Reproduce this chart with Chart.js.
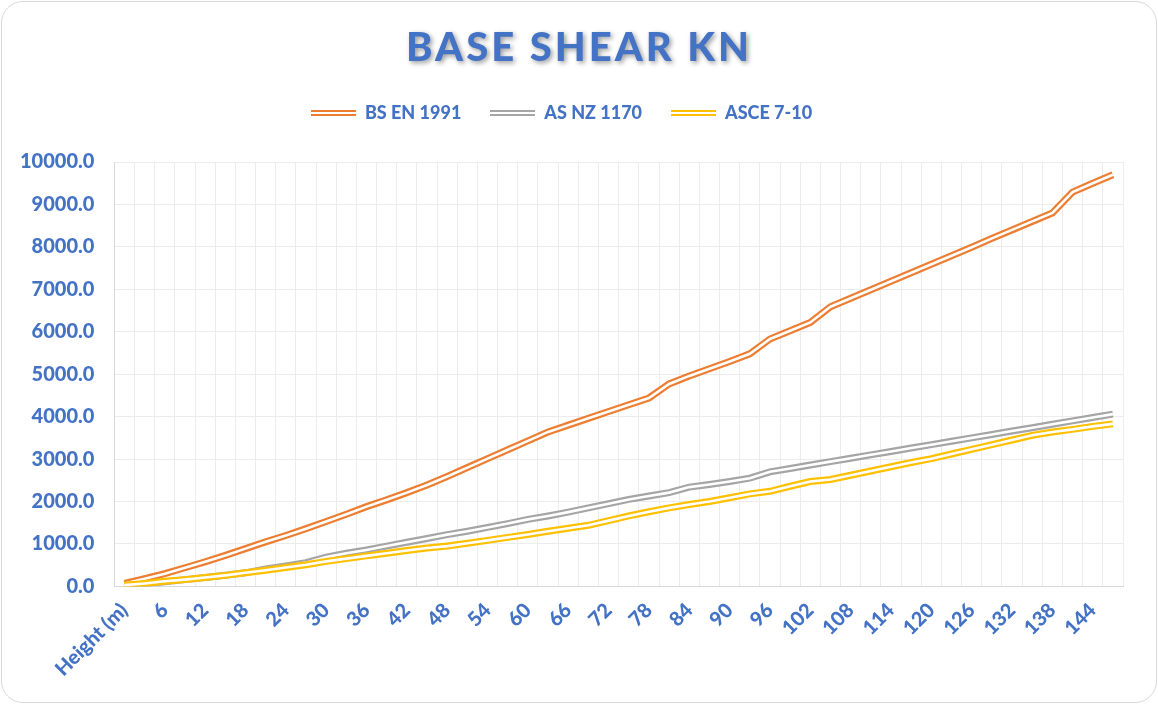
<!DOCTYPE html>
<html>
<head>
<meta charset="utf-8">
<title>Base Shear KN</title>
<script src="https://cdn.jsdelivr.net/npm/chart.js@4/dist/chart.umd.min.js"></script>
<style>
    body { margin: 0; background: #ffffff; }
    #wrap { position: relative; width: 1158px; height: 704px; }
    #frame {
        position: absolute; left: 1px; top: 1px; width: 1154px; height: 700px;
        border: 1.5px solid #d9d9d9; border-radius: 22px;
    }
    #chart { position: absolute; left: 0; top: 0; }
</style>
</head>
<body>
<div id="wrap">
    <div id="frame"></div>
    <canvas id="chart" width="1158" height="704"></canvas>
</div>
<script>
// Categories (height in m)
const heights = ['Height (m)', 3, 6, 9, 12, 15, 18, 21, 24, 27, 30, 33, 36, 39, 42, 45, 48, 51, 54, 57,
    60, 63, 66, 69, 72, 75, 78, 81, 84, 87, 90, 93, 96, 99, 102, 105, 108, 111, 114, 117,
    120, 123, 126, 129, 132, 135, 138, 141, 144, 147];

// Base shear values (kN)
const bsEn1991 = [70, 180, 300, 440, 580, 730, 890, 1050, 1200, 1360,
    1530, 1700, 1880, 2040, 2210, 2390, 2590, 2800, 3010, 3220,
    3430, 3640, 3800, 3960, 4120, 4280, 4440, 4770, 4960, 5130,
    5300, 5480, 5830, 6025, 6220, 6590, 6790, 6990, 7190, 7390,
    7590, 7790, 7990, 8200, 8400, 8600, 8800, 9290, 9500, 9700];

const asNz1170 = [20, 60, 110, 160, 210, 265, 320, 410, 480, 560,
    690, 780, 860, 950, 1040, 1130, 1220, 1300, 1390, 1480,
    1580, 1660, 1750, 1850, 1950, 2050, 2130, 2210, 2340, 2400,
    2470, 2550, 2700, 2780, 2860, 2940, 3020, 3100, 3180, 3260,
    3340, 3420, 3500, 3580, 3660, 3740, 3820, 3900, 3980, 4060];

const asce710 = [30, 70, 120, 160, 210, 260, 320, 380, 445, 510,
    590, 655, 720, 780, 845, 905, 950, 1015, 1085, 1155,
    1225, 1300, 1370, 1440, 1550, 1660, 1760, 1850, 1930, 2000,
    2090, 2180, 2240, 2360, 2470, 2520, 2620, 2720, 2820, 2920,
    3010, 3120, 3230, 3340, 3450, 3560, 3640, 3700, 3770, 3830];

const seriesNames = ['BS EN 1991', 'AS NZ 1170', 'ASCE 7-10'];
const seriesData = [bsEn1991, asNz1170, asce710];
const seriesColors = ['#ED7D31', '#A5A5A5', '#FFC000'];

// y axis ticks
const yMin = 0, yMax = 10000, yStep = 1000;

const textBlue = '#4472C4';
const fontFamily = 'Lato, "Open Sans", sans-serif';

// small double-line sample for the legend
function legendLine(color) {
    const c = document.createElement('canvas');
    c.width = 45; c.height = 6;
    const g = c.getContext('2d');
    g.fillStyle = color;
    g.fillRect(0, 0, 45, 2);
    g.fillRect(0, 4, 45, 2);
    return c;
}

// each series is drawn as a thick coloured line with a thin white line on top -> double line look
const datasets = [];
seriesNames.forEach((name, i) => {
    datasets.push({
        label: name,
        data: seriesData[i],
        borderColor: seriesColors[i],
        borderWidth: 7,
        pointRadius: 0,
        tension: 0,
        order: 6 - i * 2
    });
    datasets.push({
        label: '',
        data: seriesData[i],
        borderColor: '#ffffff',
        borderWidth: 2.6,
        pointRadius: 0,
        tension: 0,
        order: 5 - i * 2
    });
});

// title with shadow, drawn in the top padding
const titlePlugin = {
    id: 'shadowTitle',
    afterDraw(chart) {
        const ctx = chart.ctx;
        ctx.save();
        ctx.font = '900 40px ' + fontFamily;
        ctx.letterSpacing = '3px';
        ctx.textAlign = 'center';
        ctx.textBaseline = 'middle';
        ctx.shadowColor = 'rgba(0,0,0,0.4)';
        ctx.shadowBlur = 5;
        ctx.shadowOffsetX = 2;
        ctx.shadowOffsetY = 2;
        ctx.fillStyle = textBlue;
        ctx.fillText('BASE SHEAR KN', chart.width / 2, 48);
        ctx.restore();
    }
};

// extra space under the legend
const legendGap = {
    id: 'legendGap',
    afterInit(chart) {
        const fit = chart.legend.fit;
        chart.legend.fit = function () {
            fit.bind(chart.legend)();
            this.height += 30;
        };
    }
};

new Chart(document.getElementById('chart'), {
    type: 'line',
    data: { labels: heights, datasets: datasets },
    plugins: [titlePlugin, legendGap],
    options: {
        responsive: false,
        animation: false,
        layout: { padding: { top: 75, left: 0, right: 35, bottom: 11 } },
        plugins: {
            tooltip: { enabled: false },
            legend: {
                position: 'top',
                labels: {
                    usePointStyle: true,
                    pointStyleWidth: 45,
                    boxHeight: 6,
                    padding: 29,
                    color: textBlue,
                    font: { family: fontFamily, size: 18, weight: '900' },
                    generateLabels: () => seriesNames.map((name, i) => ({
                        text: name,
                        fillStyle: seriesColors[i],
                        strokeStyle: seriesColors[i],
                        lineWidth: 0,
                        pointStyle: legendLine(seriesColors[i]),
                        fontColor: textBlue,
                        hidden: false,
                        datasetIndex: i * 2
                    }))
                }
            }
        },
        scales: {
            x: {
                type: 'category',
                offset: true,
                grid: { offset: true, color: '#ececec', drawTicks: false },
                border: { color: '#d9d9d9' },
                ticks: {
                    autoSkip: false,
                    minRotation: 45,
                    maxRotation: 45,
                    padding: 12,
                    color: textBlue,
                    font: { family: fontFamily, size: 20, weight: '900' },
                    callback: (v, i) => (i % 2 === 0 ? heights[i] : '')
                }
            },
            y: {
                min: yMin,
                max: yMax,
                grid: { color: '#ececec', drawTicks: false },
                border: { color: '#d9d9d9' },
                ticks: {
                    stepSize: yStep,
                    padding: 20,
                    color: textBlue,
                    font: { family: fontFamily, size: 20, weight: '900' },
                    callback: v => v.toFixed(1)
                }
            }
        }
    }
});
</script>
</body>
</html>
